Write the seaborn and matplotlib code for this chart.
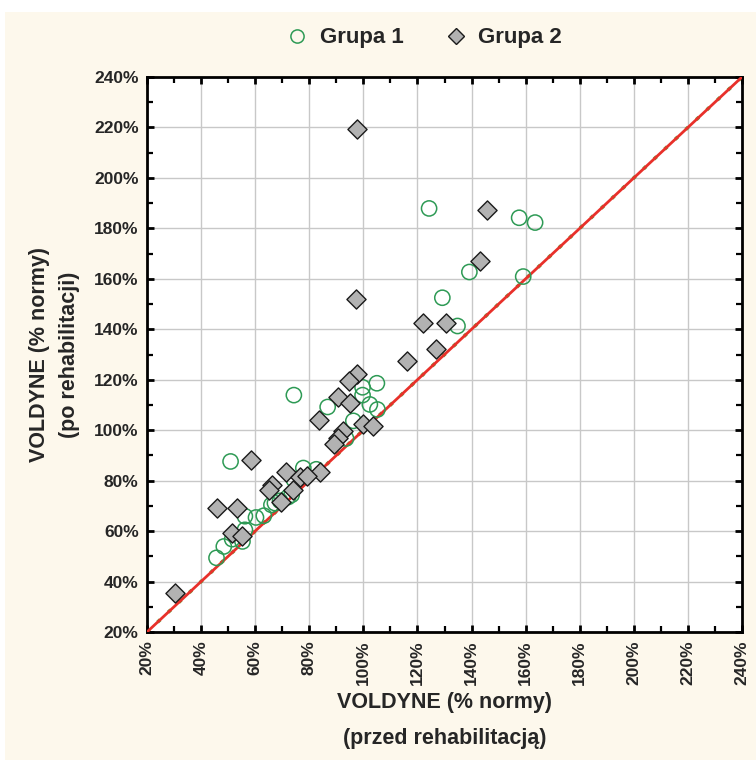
import matplotlib
matplotlib.use("Agg")
import matplotlib.pyplot as plt
from matplotlib.lines import Line2D
from matplotlib.patches import Rectangle
from matplotlib.ticker import MultipleLocator, FuncFormatter
import seaborn as sns
import pandas as pd

# ---- data (% normy) ----
g1_before = [124.3, 157.6, 163.5, 139.2, 159.1, 129.2, 134.8, 105.0, 99.7, 99.7,
             74.3, 102.4, 86.8, 105.2, 96.3, 93.6, 50.9, 77.8, 82.6, 74.3,
             73.5, 72.2, 69.2, 67.3, 66.0, 63.2, 60.3, 56.2, 56.2, 55.3,
             51.5, 48.4, 45.7]
g1_after = [187.9, 184.2, 182.3, 162.7, 160.9, 152.5, 141.3, 118.6, 117.0, 113.9,
            113.9, 110.2, 109.2, 108.2, 103.7, 96.7, 87.6, 85.0, 84.5, 80.4,
            74.4, 73.5, 72.0, 71.1, 70.4, 66.1, 65.4, 65.9, 60.5, 55.9,
            56.8, 53.9, 49.4]
g2_before = [97.5, 145.6, 143.1, 97.4, 121.9, 130.7, 127.0, 116.0, 97.7, 94.8,
             90.7, 95.0, 83.7, 100.0, 103.5, 92.4, 90.7, 89.2, 58.3, 71.5,
             84.0, 76.6, 79.0, 66.1, 65.2, 73.9, 69.6, 46.0, 53.2, 51.3,
             55.1, 30.4]
g2_after = [219.4, 187.4, 167.1, 152.0, 142.5, 142.6, 132.2, 127.5, 122.2, 119.3,
            113.3, 110.6, 104.0, 102.5, 101.8, 99.6, 97.0, 94.6, 88.0, 83.4,
            83.5, 81.5, 82.0, 78.4, 76.1, 76.2, 71.5, 69.1, 69.1, 59.2,
            58.0, 35.6]
groups = ["Grupa 1", "Grupa 2"]
axis_ticks = [20, 40, 60, 80, 100, 120, 140, 160, 180, 200, 220, 240]
xlabel = "VOLDYNE (% normy)\n(przed rehabilitacją)"
ylabel = "VOLDYNE (% normy)\n(po rehabilitacji)"

df1 = pd.DataFrame({"x": g1_before, "y": g1_after})
df2 = pd.DataFrame({"x": g2_before, "y": g2_after})

sns.set_style("white")
plt.rcParams["font.family"] = ["Liberation Sans", "DejaVu Sans"]

CREAM = "#FDF8EC"
fig = plt.figure(figsize=(7.56, 7.60), dpi=100, facecolor="white")
fig.patches.append(Rectangle((5 / 756, 0), 1, 1 - 12 / 760, transform=fig.transFigure,
                             facecolor=CREAM, edgecolor="none", zorder=-10))
ax = fig.add_axes([147 / 756, 128 / 760, 595 / 756, 555 / 760])
ax.set_facecolor("white")

lo, hi = axis_ticks[0], axis_ticks[-1]
ax.plot([lo, hi], [lo, hi], color="#6a9a3a", lw=2.6, ls=(0, (1, 3)), zorder=2)
ax.plot([lo, hi], [lo, hi], color="#E8302A", lw=2.0, zorder=3)

sns.scatterplot(data=df1, x="x", y="y", ax=ax, marker="o", s=120,
                facecolor="none", edgecolor="#2E9A55", linewidth=1.1, zorder=4, legend=False)
sns.scatterplot(data=df2, x="x", y="y", ax=ax, marker="D", s=95,
                color="#B2B2B2", edgecolor="#1a1a1a", linewidth=1.0, zorder=5, legend=False)

ax.set_xlim(lo, hi)
ax.set_ylim(lo, hi)
ax.set_xticks(axis_ticks)
ax.set_yticks(axis_ticks)
ax.xaxis.set_minor_locator(MultipleLocator(10))
ax.yaxis.set_minor_locator(MultipleLocator(10))
fmt = FuncFormatter(lambda v, p: f"{v:.0f}%")
ax.xaxis.set_major_formatter(fmt)
ax.yaxis.set_major_formatter(fmt)
ax.grid(True, which="major", color="#C8C8C8", lw=1.0, zorder=0)
ax.set_axisbelow(True)
for s in ax.spines.values():
    s.set_color("black")
    s.set_linewidth(2.0)
ax.tick_params(which="both", direction="in", top=True, right=True, bottom=True, left=True,
               color="black")
ax.tick_params(which="major", length=5, width=2, labelsize=12.5)
ax.tick_params(which="minor", length=4, width=1.6)
ax.tick_params(axis="x", which="major", labelrotation=90, pad=6)
ax.tick_params(axis="y", which="major", pad=6)
for lab in ax.get_xticklabels() + ax.get_yticklabels():
    lab.set_fontweight("bold")

ax.set_xlabel(xlabel, fontsize=15.5, fontweight="bold", labelpad=5, linespacing=1.95)
ax.set_ylabel(ylabel, fontsize=15.5, fontweight="bold", labelpad=10, linespacing=1.6)

handles = [
    Line2D([], [], marker="o", ls="none", markersize=9.5, markerfacecolor="none",
           markeredgecolor="#2E9A55", markeredgewidth=1.1, label=groups[0]),
    Line2D([], [], marker="D", ls="none", markersize=8, markerfacecolor="#B2B2B2",
           markeredgecolor="#1a1a1a", markeredgewidth=1.0, label=groups[1]),
]
fig.legend(handles=handles, loc="center", bbox_to_anchor=(424 / 756, 1 - 38 / 760),
           ncol=2, frameon=False, prop={"weight": "bold", "size": 16},
           handlelength=1.0, handletextpad=0.5, columnspacing=1.85)

fig.savefig("out.png", dpi=100, facecolor=fig.get_facecolor())
